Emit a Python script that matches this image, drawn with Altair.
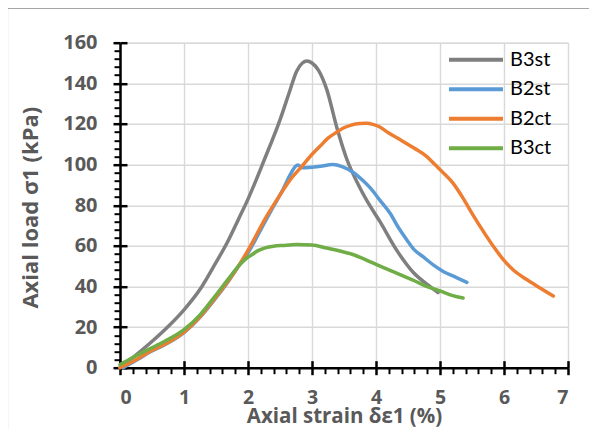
import altair as alt
import pandas as pd

# ---- data ----
series_names = ["B3st", "B2st", "B2ct", "B3ct"]
series_colors = ["#7f7f7f", "#5b9bd5", "#ed7d31", "#70ad47"]

b3st_x = [0, 0.2, 0.44, 0.7, 1.0, 1.28, 1.48, 1.69, 1.85, 2.0, 2.25, 2.5, 2.65, 2.76, 2.85, 2.92,
          3.0, 3.1, 3.23, 3.39, 3.54, 3.75, 3.9, 4.06, 4.32, 4.58, 4.8, 4.97]
b3st_y = [0, 5, 11.3, 18.7, 28.5, 40, 50.7, 62.5, 73, 83, 102, 122, 136, 146, 150, 151,
          150, 146.5, 137, 118, 103, 88.5, 80, 72, 58, 47, 41, 37]

b2st_x = [0.05, 0.3, 0.44, 0.7, 1.0, 1.25, 1.48, 1.7, 1.85, 2.0, 2.2, 2.4, 2.55, 2.66, 2.74, 2.78,
          2.85, 2.95, 3.1, 3.33, 3.47, 3.65, 3.8, 3.91, 4.06, 4.22, 4.35, 4.48, 4.6, 4.74, 4.9,
          5.05, 5.25, 5.42]
b2st_y = [0, 4.5, 7.2, 11.3, 17.3, 24.8, 33.6, 42.8, 49.8, 56.5, 68, 79.5, 88, 95, 99, 99.8,
          98.4, 98.5, 99, 100, 99, 96, 92, 88.5, 82.5, 76, 69, 63, 58, 54.5, 50.5,
          47.4, 44.5, 42]

b2ct_x = [0, 0.3, 0.44, 0.7, 1.0, 1.25, 1.48, 1.7, 1.85, 2.0, 2.29, 2.5, 2.66, 2.81, 3.02, 3.125,
          3.25, 3.39, 3.49, 3.6, 3.75, 3.85, 3.95, 4.06, 4.2, 4.375, 4.6, 4.79, 4.92, 5.05, 5.2,
          5.36, 5.5, 5.7, 5.85, 5.99, 6.15, 6.3, 6.5, 6.77]
b2ct_y = [0, 4.8, 7.5, 11.5, 17.5, 25, 34, 43, 50, 57.8, 74.5, 85, 92.6, 98, 105.7, 109,
          113, 116, 118, 119.3, 120.2, 120.3, 119.8, 118.5, 115.5, 112.3, 108, 104, 100, 96, 91,
          83.5, 76, 66, 59, 53.2, 48, 44.5, 40.5, 35.3]

b3ct_x = [0, 0.2, 0.44, 0.7, 1.0, 1.25, 1.48, 1.7, 1.85, 1.98, 2.06, 2.15, 2.27, 2.4, 2.55, 2.76,
          3.0, 3.23, 3.45, 3.65, 3.85, 4.01, 4.2, 4.375, 4.6, 4.79, 5.0, 5.2, 5.36]
b3ct_y = [1.5, 5, 8.9, 13, 18.7, 26, 35, 44, 50, 54, 55.6, 57.5, 59, 59.8, 60.2, 60.6,
          60.4, 58.9, 57.3, 55.6, 53, 50.7, 48.2, 45.8, 42.8, 40, 37.8, 35.5, 34.3]

x_major = [0, 1, 2, 3, 4, 5, 6, 7]
y_major = [0, 20, 40, 60, 80, 100, 120, 140, 160]
x_minor = [round(i * 0.2, 1) for i in range(36) if i % 5 != 0]
y_minor = [i * 4 for i in range(41) if i % 5 != 0]

x_title = "Axial strain δε1 (%)"
y_title = "Axial load σ1 (kPa)"

# ---- build table ----
rows = []
for name, xs, ys in [("B3st", b3st_x, b3st_y), ("B2st", b2st_x, b2st_y),
                     ("B2ct", b2ct_x, b2ct_y), ("B3ct", b3ct_x, b3ct_y)]:
    for i, (a, b) in enumerate(zip(xs, ys)):
        rows.append({"series": name, "x": a, "y": b, "i": i})
df = pd.DataFrame(rows)

GRAY_TXT = "#595959"
FONT = "Open Sans"
LEG_FONT = "Lato"

xscale = alt.Scale(domain=[0, 7], nice=False, zero=False)
yscale = alt.Scale(domain=[0, 160], nice=False, zero=False)
color = alt.Color(
    "series:N",
    scale=alt.Scale(domain=series_names, range=series_colors),
    sort=series_names,
    legend=alt.Legend(
        orient="none", legendX=344, legendY=5, title=None,
        symbolType="M-2.7,0H2.7", symbolSize=400, symbolStrokeWidth=4,
        labelFont=LEG_FONT, labelFontSize=20, labelColor="black",
        labelOffset=22, rowPadding=7.5, padding=0,
    ),
)

main_x_axis = alt.Axis(
    orient="bottom", values=x_major, format="d", grid=True, gridColor="#d9d9d9", gridWidth=1.4,
    domainColor="black", domainWidth=2.5, tickColor="black", tickWidth=2.5, tickSize=7,
    labelFont=FONT, labelFontWeight="bold", labelFontSize=19.5, labelColor=GRAY_TXT,
    labelPadding=14, title=x_title, titleFont=FONT, titleFontSize=20.5,
    titleFontWeight="bold", titleColor=GRAY_TXT,
    titleX=224, titleY=54.5, titleAlign="center", titleBaseline="alphabetic",
)
main_y_axis = alt.Axis(
    orient="left", values=y_major, format="d", grid=True, gridColor="#d9d9d9", gridWidth=1.4,
    domainColor="black", domainWidth=2.5, tickColor="black", tickWidth=2.5, tickSize=7,
    labelFont=FONT, labelFontWeight="bold", labelFontSize=20, labelColor=GRAY_TXT,
    labelPadding=16, title=y_title, titleFont=FONT, titleFontSize=22,
    titleFontWeight="bold", titleColor=GRAY_TXT,
    titleX=-90, titleY=164.5, titleAlign="center", titleBaseline="middle", titleAngle=270,
)
minor_x_axis = alt.Axis(orient="bottom", values=x_minor, labels=False, domain=False, grid=False,
                        tickColor="black", tickWidth=2, tickSize=6, title=None)
minor_y_axis = alt.Axis(orient="left", values=y_minor, labels=False, domain=False, grid=False,
                        tickColor="black", tickWidth=2, tickSize=6, title=None)
inner_x_axis = alt.Axis(orient="bottom", values=x_major, labels=False, domain=False, grid=False,
                        tickColor="black", tickWidth=2.5, tickSize=7, offset=-7, title=None)
inner_y_axis = alt.Axis(orient="left", values=y_major, labels=False, domain=False, grid=False,
                        tickColor="black", tickWidth=2.5, tickSize=7, offset=-7, title=None)

base = alt.Chart(df)


def series_layer(name, xaxis, yaxis):
    return base.transform_filter(alt.datum.series == name).mark_line(
        strokeWidth=3.5, strokeCap="round", strokeJoin="round", interpolate="monotone"
    ).encode(
        x=alt.X("x:Q", scale=xscale, axis=xaxis),
        y=alt.Y("y:Q", scale=yscale, axis=yaxis),
        color=color,
        order="i:Q",
    )


frame = alt.Chart(alt.Data(values=[{"f": 1}])).mark_rect(
    fill="white", fillOpacity=0, stroke="#a6a6a6", strokeWidth=1.2
).encode(
    x=alt.value(-112.5), x2=alt.value(520), y=alt.value(-34.2), y2=alt.value(460)
)

chart = alt.layer(
    frame,
    series_layer("B3st", main_x_axis, main_y_axis),
    series_layer("B2st", minor_x_axis, minor_y_axis),
    series_layer("B2ct", inner_x_axis, inner_y_axis),
    series_layer("B3ct", None, None),
).resolve_axis(x="independent", y="independent").properties(
    width=448, height=325,
    padding={"left": 112, "top": 34.7, "right": 21, "bottom": 61},
    autosize=alt.AutoSizeParams(type="none"),
).configure_view(strokeWidth=0).configure(background="white")

chart.save("out.html", embed_options={"renderer": "svg", "actions": False})
